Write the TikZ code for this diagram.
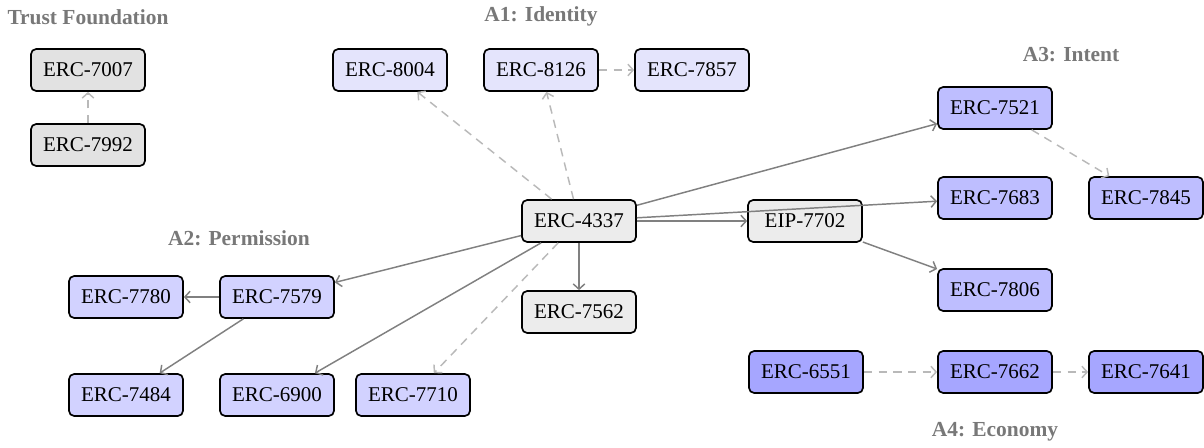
\documentclass[tikz,border=0pt]{standalone}
\usepackage{fontspec}
\setmainfont{Liberation Serif}
\usetikzlibrary{arrows.meta}
\definecolor{fgray}{RGB}{226,226,226}
\definecolor{cgray}{RGB}{236,236,236}
\definecolor{aone}{RGB}{228,228,252}
\definecolor{atwo}{RGB}{210,210,255}
\definecolor{athree}{RGB}{190,190,255}
\definecolor{afour}{RGB}{166,166,255}
\definecolor{lbl}{RGB}{120,120,120}
\tikzset{
  erc/.style={draw=black, line width=0.8pt, rounded corners=2.5pt, minimum width=54.3pt, minimum height=20pt, inner sep=0pt, font=\fontsize{10}{12}\selectfont},
  grp/.style={text=lbl, font=\fontsize{10.2}{12}\selectfont\bfseries},
  solid edge/.style={draw=gray, line width=0.7pt, -{Straight Barb[length=2.5pt,width=5.5pt]}},
  dash edge/.style={draw=gray!55, line width=0.7pt, dash pattern=on 4pt off 3pt, -{Straight Barb[length=2.5pt,width=5.5pt]}}
}
\begin{document}
\begin{tikzpicture}[x=0.476pt,y=-0.476pt]
\useasboundingbox (0,0) rectangle (1204,448);
% labels
\node[grp] (lt) at (88,17) {Trust Foundation};
\node[grp] (l1) at (541,16) {A1: Identity};
\node[grp] (l2) at (239,238) {A2: Permission};
\node[grp] (l3) at (1071,55) {A3: Intent};
\node[grp] (l4) at (995,432) {A4: Economy};
% trust foundation
\node[erc, fill=fgray] (e7007) at (88,70) {ERC-7007};
\node[erc, fill=fgray] (e7992) at (88,145) {ERC-7992};
% core
\node[erc, fill=cgray] (e4337) at (579,221) {ERC-4337};
\node[erc, fill=cgray] (e7702) at (805,221) {EIP-7702};
\node[erc, fill=cgray] (e7562) at (579,312) {ERC-7562};
% A1
\node[erc, fill=aone] (e8004) at (390,70) {ERC-8004};
\node[erc, fill=aone] (e8126) at (541,70) {ERC-8126};
\node[erc, fill=aone] (e7857) at (692,70) {ERC-7857};
% A2
\node[erc, fill=atwo] (e7780) at (126,297) {ERC-7780};
\node[erc, fill=atwo] (e7579) at (277,297) {ERC-7579};
\node[erc, fill=atwo] (e7484) at (126,395) {ERC-7484};
\node[erc, fill=atwo] (e6900) at (277,395) {ERC-6900};
\node[erc, fill=atwo] (e7710) at (413,395) {ERC-7710};
% A3
\node[erc, fill=athree] (e7521) at (995,108) {ERC-7521};
\node[erc, fill=athree] (e7683) at (995,198) {ERC-7683};
\node[erc, fill=athree] (e7845) at (1146,198) {ERC-7845};
\node[erc, fill=athree] (e7806) at (995,290) {ERC-7806};
% A4
\node[erc, fill=afour] (e6551) at (806,372) {ERC-6551};
\node[erc, fill=afour] (e7662) at (995,372) {ERC-7662};
\node[erc, fill=afour] (e7641) at (1146,372) {ERC-7641};
% edges
\draw[dash edge] (e7992) -- (e7007);
\draw[dash edge] (e4337) -- (e8004);
\draw[dash edge] (e4337) -- (e8126);
\draw[dash edge] (e8126) -- (e7857);
\draw[solid edge] (e4337) -- (e7521);
\draw[solid edge] (e4337) -- (e7683);
\draw[solid edge] (e4337) -- (e7702);
\draw[solid edge] (e7702) -- (e7806);
\draw[dash edge] (e7521) -- (e7845);
\draw[solid edge] (e4337) -- (e7579);
\draw[solid edge] (e4337) -- (e6900);
\draw[dash edge] (e4337) -- (e7710);
\draw[solid edge] (e4337) -- (e7562);
\draw[solid edge] (e7579) -- (e7780);
\draw[solid edge] (e7579) -- (e7484);
\draw[dash edge] (e6551) -- (e7662);
\draw[dash edge] (e7662) -- (e7641);
\end{tikzpicture}
\end{document}
